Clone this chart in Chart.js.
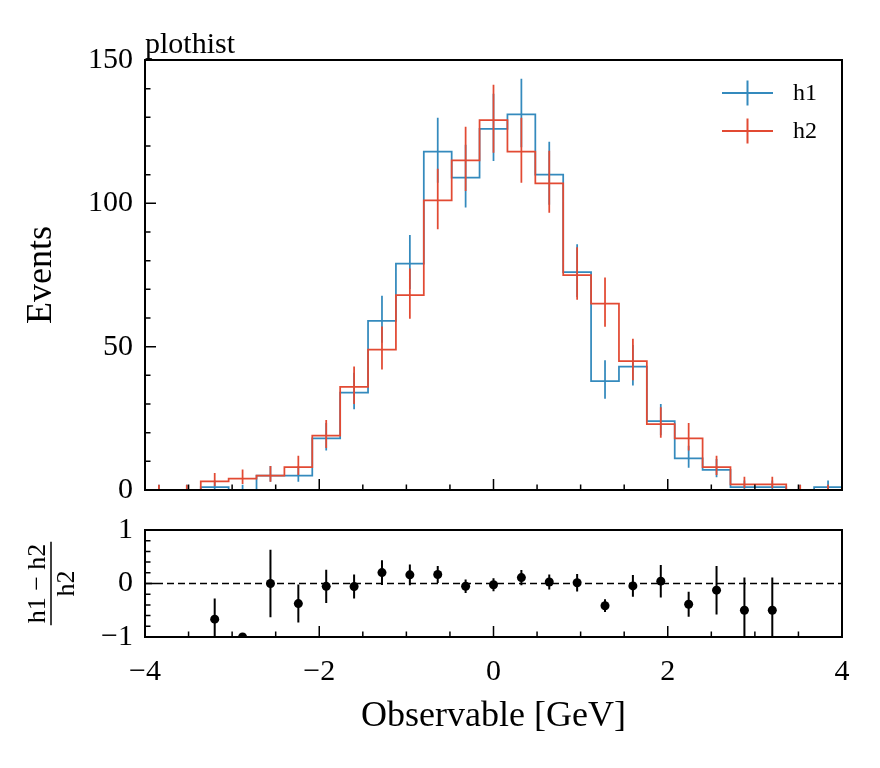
<!DOCTYPE html>
<html>
<head>
<meta charset="utf-8">
<script src="https://cdn.jsdelivr.net/npm/chart.js@4.4.1/dist/chart.umd.min.js"></script>
<style>
  html, body { margin: 0; padding: 0; background: #fff; }
  #wrap { position: relative; width: 880px; height: 768px; }
  canvas { position: absolute; left: 0; }
  #main { top: 0; }
  #ratio { top: 500px; }
</style>
</head>
<body>
<div id="wrap">
  <canvas id="main" width="880" height="520"></canvas>
  <canvas id="ratio" width="880" height="268"></canvas>
</div>
<script>
// histogram data, 25 bins on [-4, 4]
const binEdges = [-4, -3.68, -3.36, -3.04, -2.72, -2.4, -2.08, -1.76, -1.44, -1.12, -0.8, -0.48, -0.16,
    0.16, 0.48, 0.8, 1.12, 1.44, 1.76, 2.08, 2.4, 2.72, 3.04, 3.36, 3.68, 4];
const h1Counts = [0, 0, 1, 0, 5, 5, 18, 34, 59, 79, 118, 109, 126, 131, 110, 76, 38, 43, 24, 11, 7, 1, 1, 0, 1];
const h2Counts = [0, 0, 3, 4, 5, 8, 19, 36, 49, 68, 101, 115, 129, 118, 107, 75, 65, 45, 23, 18, 8, 2, 2, 0, 0];
const xTicks = [-4, -2, 0, 2, 4];
const yTicksMain = [0, 50, 100, 150];
const yTicksRatio = [-1, 0, 1];

const BLUE = "#348ABD";
const RED = "#E24A33";
const FONT = "'Liberation Serif', 'DejaVu Serif', serif";

Chart.defaults.font.family = FONT;
Chart.defaults.color = "#000";
Chart.defaults.animation = false;

const binCenters = h1Counts.map((_, i) => (binEdges[i] + binEdges[i + 1]) / 2);

// approximate poisson (Gehrels) 1 sigma interval
function poissonLow(n) {
    if (n === 0) return 0;
    return n * Math.pow(1 - 1 / (9 * n) - 1 / (3 * Math.sqrt(n)), 3);
}
function poissonHigh(n) {
    return n + Math.sqrt(n + 0.75) + 1;
}

function stepData(counts) {
    const pts = counts.map((c, i) => ({ x: binEdges[i], y: c }));
    pts.push({ x: binEdges[binEdges.length - 1], y: counts[counts.length - 1] });
    return pts;
}

function errData(centers, lows, highs) {
    const pts = [];
    centers.forEach((c, i) => {
        if (lows[i] === null) return;
        pts.push({ x: c, y: lows[i] }, { x: c, y: highs[i] }, { x: c, y: null });
    });
    return pts;
}

const ratioVals = h1Counts.map((n1, i) => (h2Counts[i] > 0 ? n1 / h2Counts[i] - 1 : null));
const ratioErrs = h1Counts.map((n1, i) => {
    const n2 = h2Counts[i];
    if (n2 === 0 || n1 === 0) return 0;
    return (n1 / n2) * Math.sqrt(1 / n1 + 1 / n2);
});

const fmt = (v) => (v < 0 ? "\u2212" + Math.abs(v) : String(v));

// box around the plot area and inward ticks
const frameTicks = {
    id: "frameTicks",
    afterDatasetsDraw(chart, args, opts) {
        const { ctx, chartArea: a } = chart;
        const xs = chart.scales.x;
        const ys = chart.scales.y;
        ctx.save();
        ctx.strokeStyle = "#000";
        ctx.lineWidth = 1.5;
        ctx.beginPath();
        const near = (arr, v) => arr.some((m) => Math.abs(m - v) < 1e-6);
        for (let v = xs.min; v <= xs.max + 1e-9; v += opts.xMinor) {
            const len = near(opts.xMajor, v) ? 11 : 5.5;
            const px = xs.getPixelForValue(v);
            ctx.moveTo(px, a.bottom);
            ctx.lineTo(px, a.bottom - len);
        }
        for (let v = ys.min; v <= ys.max + 1e-9; v += opts.yMinor) {
            const len = near(opts.yMajor, v) ? 11 : 5.5;
            const py = ys.getPixelForValue(v);
            ctx.moveTo(a.left, py);
            ctx.lineTo(a.left + len, py);
        }
        ctx.stroke();
        ctx.lineWidth = 2;
        ctx.strokeRect(a.left, a.top, a.right - a.left, a.bottom - a.top);
        ctx.restore();
    },
};

const cornerText = {
    id: "cornerText",
    afterDraw(chart, args, opts) {
        if (!opts.text) return;
        const { ctx, chartArea: a } = chart;
        ctx.save();
        ctx.font = "30px " + FONT;
        ctx.fillStyle = "#000";
        ctx.textBaseline = "alphabetic";
        ctx.fillText(opts.text, a.left, a.top - 7);
        ctx.restore();
    },
};

const errLegend = {
    id: "errLegend",
    afterDraw(chart, args, opts) {
        if (!opts.display) return;
        const { ctx, chartArea: a } = chart;
        const items = chart.data.datasets.filter((d) => d.legendRow !== undefined);
        items.sort((p, q) => p.legendRow - q.legendRow);
        ctx.save();
        ctx.font = "24px " + FONT;
        ctx.textBaseline = "middle";
        items.forEach((d, i) => {
            const y = a.top + 33 + i * 38;
            const x0 = a.right - 120;
            const x1 = a.right - 69;
            ctx.strokeStyle = d.borderColor;
            ctx.lineWidth = 2;
            ctx.beginPath();
            ctx.moveTo(x0, y);
            ctx.lineTo(x1, y);
            ctx.moveTo((x0 + x1) / 2, y - 12.5);
            ctx.lineTo((x0 + x1) / 2, y + 12.5);
            ctx.stroke();
            ctx.fillStyle = "#000";
            ctx.fillText(d.label, a.right - 49, y + 1);
        });
        ctx.restore();
    },
};

const fracTitle = {
    id: "fracTitle",
    afterDraw(chart, args, opts) {
        if (!opts.num) return;
        const { ctx, chartArea: a } = chart;
        const cy = (a.top + a.bottom) / 2;
        ctx.save();
        ctx.translate(51, cy);
        ctx.rotate(-Math.PI / 2);
        ctx.font = "26px " + FONT;
        ctx.fillStyle = "#000";
        ctx.textAlign = "center";
        ctx.textBaseline = "alphabetic";
        ctx.fillText(opts.num, 0, -6);
        ctx.textBaseline = "top";
        ctx.fillText(opts.den, 0, 3);
        const w = ctx.measureText(opts.num).width / 2 + 2;
        ctx.lineWidth = 1.5;
        ctx.beginPath();
        ctx.moveTo(-w, 0);
        ctx.lineTo(w, 0);
        ctx.stroke();
        ctx.restore();
    },
};

const main = document.getElementById("main");
const mainChart = new Chart(main, {
    type: "line",
    data: {
        datasets: [
            {
                label: "h2",
                legendRow: 1,
                data: stepData(h2Counts),
                borderColor: RED,
                borderWidth: 1.75,
                stepped: "before",
                pointRadius: 0,
                order: 1,
            },
            {
                label: "h2 err",
                data: errData(binCenters, h2Counts.map(poissonLow), h2Counts.map(poissonHigh)),
                borderColor: RED,
                borderWidth: 1.75,
                pointRadius: 0,
                order: 0,
            },
            {
                label: "h1",
                legendRow: 0,
                data: stepData(h1Counts),
                borderColor: BLUE,
                borderWidth: 1.75,
                stepped: "before",
                pointRadius: 0,
                order: 3,
            },
            {
                label: "h1 err",
                data: errData(binCenters, h1Counts.map(poissonLow), h1Counts.map(poissonHigh)),
                borderColor: BLUE,
                borderWidth: 1.75,
                pointRadius: 0,
                order: 2,
            },
        ],
    },
    options: {
        responsive: false,
        layout: { padding: { left: 0, right: 38, top: 60, bottom: 16 } },
        scales: {
            x: { type: "linear", min: -4, max: 4, display: false },
            y: {
                min: 0,
                max: 150,
                afterFit: (s) => { s.width = 145; },
                afterBuildTicks: (s) => { s.ticks = yTicksMain.map((v) => ({ value: v })); },
                grid: { display: false, drawTicks: false },
                border: { display: false },
                ticks: { font: { size: 30 }, padding: 12, callback: fmt },
                title: { display: true, text: "Events", font: { size: 36 }, padding: { top: 20, bottom: 0 } },
            },
        },
        plugins: {
            legend: { display: false },
            tooltip: { enabled: false },
            frameTicks: { xMajor: xTicks, xMinor: 0.5, yMajor: yTicksMain, yMinor: 10 },
            cornerText: { text: "plothist" },
            errLegend: { display: true },
        },
    },
    plugins: [frameTicks, cornerText, errLegend],
});

const ratio = document.getElementById("ratio");
const ratioChart = new Chart(ratio, {
    type: "line",
    data: {
        datasets: [
            {
                label: "ratio",
                data: ratioVals.map((r, i) => ({ x: binCenters[i], y: r })),
                showLine: false,
                pointRadius: 4.5,
                pointBackgroundColor: "#000",
                pointBorderWidth: 0,
                order: 0,
            },
            {
                label: "ratio err",
                data: errData(
                    binCenters,
                    ratioVals.map((r, i) => (r === null ? null : r - ratioErrs[i])),
                    ratioVals.map((r, i) => (r === null ? null : r + ratioErrs[i]))
                ),
                borderColor: "#000",
                borderWidth: 2,
                pointRadius: 0,
                order: 1,
            },
            {
                label: "zero",
                data: [{ x: xTicks[0], y: 0 }, { x: xTicks[xTicks.length - 1], y: 0 }],
                borderColor: "#000",
                borderWidth: 1.5,
                borderDash: [7, 4],
                pointRadius: 0,
                order: 2,
            },
        ],
    },
    options: {
        responsive: false,
        layout: { padding: { left: 0, right: 38, top: 20, bottom: 0 } },
        scales: {
            x: {
                type: "linear",
                min: -4,
                max: 4,
                afterFit: (s) => { s.height = 131; },
                afterBuildTicks: (s) => { s.ticks = xTicks.map((v) => ({ value: v })); },
                grid: { display: false, drawTicks: false },
                border: { display: false },
                ticks: { font: { size: 30 }, padding: 17, maxRotation: 0, callback: fmt },
                title: { display: true, text: "Observable [GeV]", font: { size: 36 }, padding: { top: 0, bottom: 30 } },
            },
            y: {
                min: -1,
                max: 1,
                afterFit: (s) => { s.width = 145; },
                afterBuildTicks: (s) => { s.ticks = yTicksRatio.map((v) => ({ value: v })); },
                grid: { display: false, drawTicks: false },
                border: { display: false },
                ticks: { font: { size: 30 }, padding: 12, callback: fmt },
            },
        },
        plugins: {
            legend: { display: false },
            tooltip: { enabled: false },
            frameTicks: { xMajor: xTicks, xMinor: 0.5, yMajor: yTicksRatio, yMinor: 0.2 },
            fracTitle: { num: "h1 \u2212 h2", den: "h2" },
        },
    },
    plugins: [frameTicks, fracTitle],
});
</script>
</body>
</html>
